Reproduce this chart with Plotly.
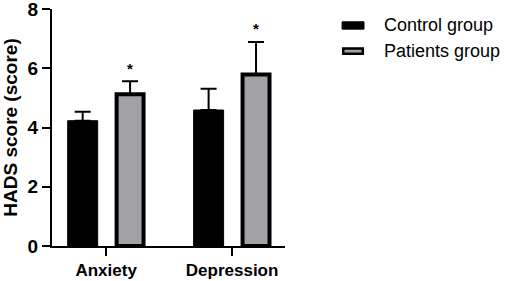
import plotly.graph_objects as go

categories = ["Anxiety", "Depression"]
control_values = [4.23, 4.59]
control_errors = [0.30, 0.72]
patients_values = [5.12, 5.79]
patients_errors = [0.44, 1.10]
significance = ["*", "*"]
y_ticks = [0, 2, 4, 6, 8]

GRAY = "#a2a2a6"
FONT = "Liberation Sans, Arial, sans-serif"

fig = go.Figure()
fig.add_trace(go.Bar(
    x=categories, y=control_values, name="Control group",
    width=0.238, offset=-0.3055,
    marker=dict(color="black", line=dict(color="black", width=1)),
    error_y=dict(type="data", symmetric=False, array=control_errors,
                 arrayminus=[0] * len(control_errors),
                 color="black", thickness=2, width=8),
    showlegend=False,
))
fig.add_trace(go.Bar(
    x=categories, y=patients_values, name="Patients group",
    width=0.214, offset=0.083,
    marker=dict(color=GRAY, line=dict(color="black", width=4)),
    error_y=dict(type="data", symmetric=False, array=patients_errors,
                 arrayminus=[0] * len(patients_errors),
                 color="black", thickness=2, width=8),
    showlegend=False,
))

for i, (v, e, s) in enumerate(zip(patients_values, patients_errors, significance)):
    fig.add_annotation(x=i + 0.19, y=v + e, text=s, showarrow=False,
                       yshift=13, font=dict(family=FONT, size=15, color="black", weight="bold"))

# legend drawn manually (wide rectangular swatches)
fig.add_shape(type="rect", xref="paper", yref="paper", x0=1.245, x1=1.339,
              y0=0.915, y1=0.946, fillcolor="black", line=dict(color="black", width=1))
fig.add_shape(type="rect", xref="paper", yref="paper", x0=1.25, x1=1.334,
              y0=0.811, y1=0.833, fillcolor=GRAY, line=dict(color="black", width=2.5))
fig.add_annotation(xref="paper", yref="paper", x=(381.7 - 52) / 233, y=0.932,
                   xanchor="left", yanchor="middle", text="Control group", showarrow=False,
                   font=dict(family=FONT, size=18, color="black"))
fig.add_annotation(xref="paper", yref="paper", x=(381.7 - 52) / 233, y=0.824,
                   xanchor="left", yanchor="middle", text="Patients group", showarrow=False,
                   font=dict(family=FONT, size=18, color="black"))

fig.update_layout(
    width=510, height=281,
    margin=dict(l=52, r=225, t=9, b=35),
    paper_bgcolor="white", plot_bgcolor="white",
    barmode="group",
    font=dict(family=FONT, color="black"),
)
fig.update_xaxes(
    range=[-0.43, 1.42], showline=True, linecolor="black", linewidth=2,
    ticks="outside", ticklen=8, tickwidth=2, tickcolor="black",
    tickfont=dict(family=FONT, size=17, color="black", weight="bold"),
    showgrid=False, zeroline=False, automargin=False,
)
fig.update_yaxes(
    range=[0, 8.0001], tickvals=y_ticks, showline=True, linecolor="black", linewidth=2,
    ticks="outside", ticklen=8, tickwidth=2, tickcolor="black",
    tickfont=dict(family=FONT, size=19, color="black", weight="bold"),
    ticklabeloverflow="allow",
    title=dict(text="HADS score (score)", font=dict(family=FONT, size=19, color="black", weight="bold"), standoff=10),
    showgrid=False, zeroline=False, automargin=False,
)

fig.write_html("out.html", config={"displayModeBar": False},
               post_script="document.body.style.margin='0';")
